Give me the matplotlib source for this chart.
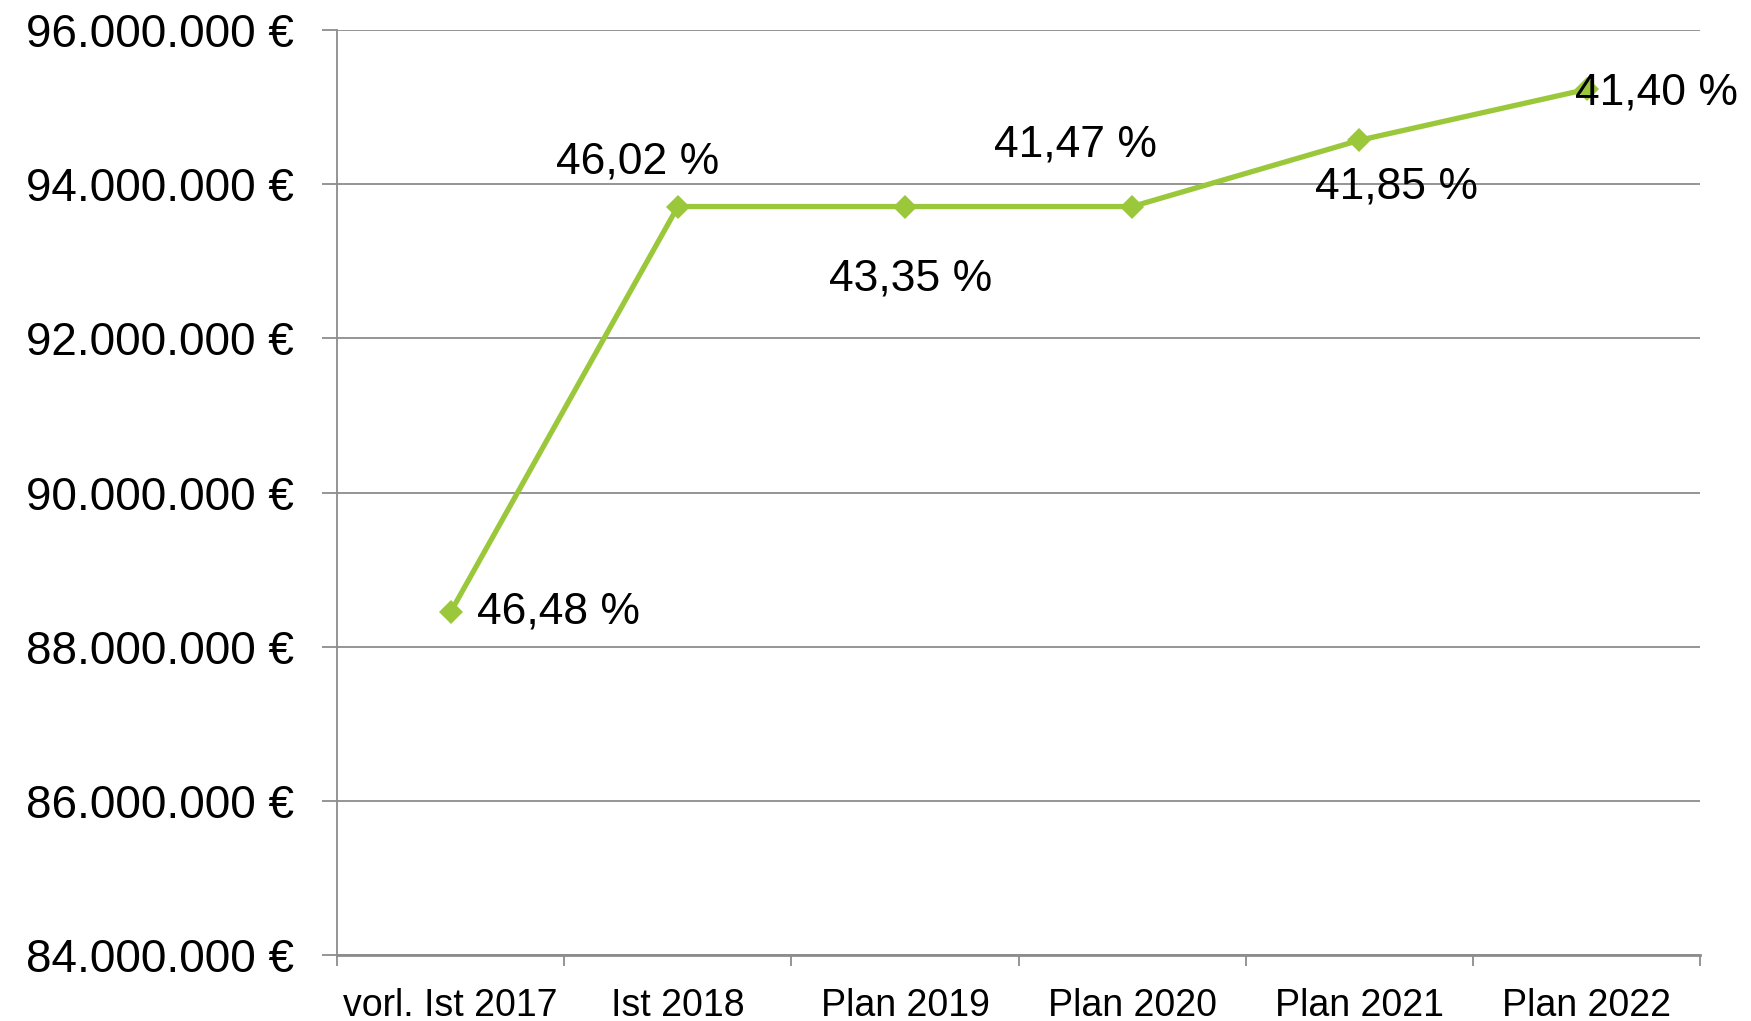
import matplotlib

matplotlib.use("Agg")
import matplotlib.pyplot as plt
from matplotlib.ticker import FixedLocator, FuncFormatter

plt.rcParams["font.family"] = ["Liberation Sans Narrow", "Liberation Sans", "DejaVu Sans"]

categories = [
    "vorl. Ist 2017",
    "Ist 2018",
    "Plan 2019",
    "Plan 2020",
    "Plan 2021",
    "Plan 2022",
]
amounts = [88_450_000, 93_710_000, 93_710_000, 93_710_000, 94_570_000, 95_230_000]
shares = ["46,48 %", "46,02 %", "43,35 %", "41,47 %", "41,85 %", "41,40 %"]

# label offsets in pixels relative to each point, and alignment
label_offsets = [(26, 0), (-40, 45), (6, -72), (-57, 62), (37, -47), (-12, -4)]
label_align = ["left", "center", "center", "center", "center", "left"]

GREEN = "#9AC83A"
GRID = "#8C8C8C"


def euro(value, _pos):
    return f"{int(value):,}".replace(",", ".") + " €"


fig = plt.figure(figsize=(17.51, 10.21), dpi=100)
ax = fig.add_axes([0.1925, 0.0646, 0.7785, 0.906])

x = list(range(len(categories)))
ax.plot(
    x,
    amounts,
    color=GREEN,
    linewidth=3.8,
    marker="D",
    markersize=12,
    markeredgewidth=0,
    zorder=3,
)

for xi, yi, text, offset, ha in zip(x, amounts, shares, label_offsets, label_align):
    ax.annotate(
        text,
        xy=(xi, yi),
        xytext=offset,
        textcoords="offset pixels",
        ha=ha,
        va="center",
        fontsize=32,
        color="black",
        zorder=4,
    )

ax.set_xlim(-0.5, len(categories) - 0.5)
ax.set_ylim(84_000_000, 96_000_000)
ax.set_yticks(range(84_000_000, 96_000_001, 2_000_000))
ax.yaxis.set_major_formatter(FuncFormatter(euro))
ax.grid(axis="y", color=GRID, linewidth=1.3)
ax.set_axisbelow(True)

ax.set_xticks(x)
ax.set_xticklabels(categories)
ax.xaxis.set_minor_locator(FixedLocator([i - 0.5 for i in range(len(categories) + 1)]))
ax.tick_params(axis="x", which="major", length=0, pad=24, labelsize=27)
ax.tick_params(axis="x", which="minor", length=8, width=1.3, color=GRID)
ax.tick_params(axis="y", length=11, width=1.3, color=GRID, pad=20, labelsize=33)

for side in ["top", "right"]:
    ax.spines[side].set_visible(False)
ax.spines["left"].set_color(GRID)
ax.spines["left"].set_linewidth(1.3)
ax.spines["bottom"].set_color(GRID)
ax.spines["bottom"].set_linewidth(2)

fig.savefig("out.png", dpi=100)
plt.close(fig)
